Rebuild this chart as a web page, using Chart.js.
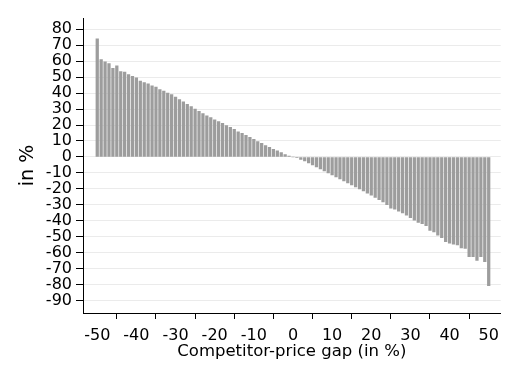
<!DOCTYPE html>
<html>
<head>
<meta charset="utf-8">
<script src="https://cdn.jsdelivr.net/npm/chart.js@4.4.1/dist/chart.umd.min.js"></script>
<style>
  html, body { margin: 0; padding: 0; background: #fff; }
  #wrap { width: 506px; height: 376px; }
</style>
</head>
<body>
<div id="wrap"><canvas id="gapChart" width="506" height="376"></canvas></div>
<script>
/* competitor-price gap, in % (one bar per point) */
const gaps = [
  -50, -49, -48, -47, -46, -45, -44, -43, -42, -41,
  -40, -39, -38, -37, -36, -35, -34, -33, -32, -31,
  -30, -29, -28, -27, -26, -25, -24, -23, -22, -21,
  -20, -19, -18, -17, -16, -15, -14, -13, -12, -11,
  -10, -9, -8, -7, -6, -5, -4, -3, -2, -1,
  0,
  1, 2, 3, 4, 5, 6, 7, 8, 9, 10,
  11, 12, 13, 14, 15, 16, 17, 18, 19, 20,
  21, 22, 23, 24, 25, 26, 27, 28, 29, 30,
  31, 32, 33, 34, 35, 36, 37, 38, 39, 40,
  41, 42, 43, 44, 45, 46, 47, 48, 49, 50
];

/* effect, in % */
const effects = [
  74, 61, 59.5, 58.5, 55.5, 57, 53.5, 53.2, 51.5, 50.5,
  49.5, 47.5, 46.5, 45.8, 44.5, 43.8, 42.2, 41.3, 40, 39,
  37.5, 36, 34.5, 33, 31.5, 30, 28.6, 27.2, 25.8, 24.6,
  23.3, 22.1, 21, 19.6, 18.5, 17.3, 15.8, 14.8, 13.5, 12.3,
  11, 9.6, 8.5, 7.1, 6, 4.8, 3.8, 2.7, 1.5, 0.6,
  0,
  -0.5, -1.5, -2.5, -3.8, -5, -6.2, -7.5, -8.8, -10, -11.2,
  -12.5, -13.8, -15, -16.3, -17.5, -18.8, -20, -21.3, -22.6, -24,
  -25.3, -26.7, -28.2, -29.8, -32, -32.7, -34, -35, -36.5, -38,
  -39.6, -41, -41.7, -43, -46, -47, -49, -50.6, -53, -54,
  -54.6, -55, -57, -57.3, -62.5, -62.5, -64.8, -62.5, -65.6, -80.6
];

const xTicks = [-50, -40, -30, -20, -10, 0, 10, 20, 30, 40, 50];
const yTicks = [-90, -80, -70, -60, -50, -40, -30, -20, -10, 0, 10, 20, 30, 40, 50, 60, 70, 80];

const points = gaps.map(function (g, i) { return { x: g, y: effects[i] }; });

new Chart(document.getElementById('gapChart'), {
  type: 'bar',
  data: {
    datasets: [{
      data: points,
      backgroundColor: '#9d9d9d',
      borderWidth: 0,
      barThickness: 2.6
    }]
  },
  options: {
    responsive: false,
    animation: false,
    layout: { padding: { top: 18, right: 4, left: 0, bottom: 0 } },
    plugins: { legend: { display: false }, tooltip: { enabled: false } },
    scales: {
      x: {
        type: 'linear',
        offset: false,
        min: -53.64,
        max: 53.06,
        afterFit: function (s) { s.height = 63; },
        afterBuildTicks: function (s) { s.ticks = xTicks.map(function (v) { return { value: v }; }); },
        grid: { drawOnChartArea: false, drawTicks: true, tickLength: 6, tickColor: '#000' },
        border: { display: true, color: '#000', width: 1 },
        ticks: {
          color: '#000',
          font: { family: 'DejaVu Sans', size: 16 },
          padding: 7,
          maxRotation: 0,
          autoSkip: false
        },
        title: {
          display: true,
          text: 'Competitor-price gap (in %)',
          color: '#000',
          font: { family: 'DejaVu Sans', size: 16.5 },
          padding: { top: 0, bottom: 14 }
        }
      },
      y: {
        min: -97.7,
        max: 87,
        afterFit: function (s) { s.width = 83; },
        afterBuildTicks: function (s) { s.ticks = yTicks.map(function (v) { return { value: v }; }); },
        grid: { color: '#ebebeb', drawTicks: true, tickLength: 7, tickColor: '#000' },
        border: { display: true, color: '#000', width: 1 },
        ticks: {
          color: '#000',
          font: { family: 'DejaVu Sans', size: 16 },
          padding: 4,
          autoSkip: false
        },
        title: {
          display: true,
          text: 'in %',
          color: '#000',
          font: { family: 'DejaVu Sans', size: 19 },
          padding: { top: 17, bottom: 0 }
        }
      }
    }
  }
});
</script>
</body>
</html>
